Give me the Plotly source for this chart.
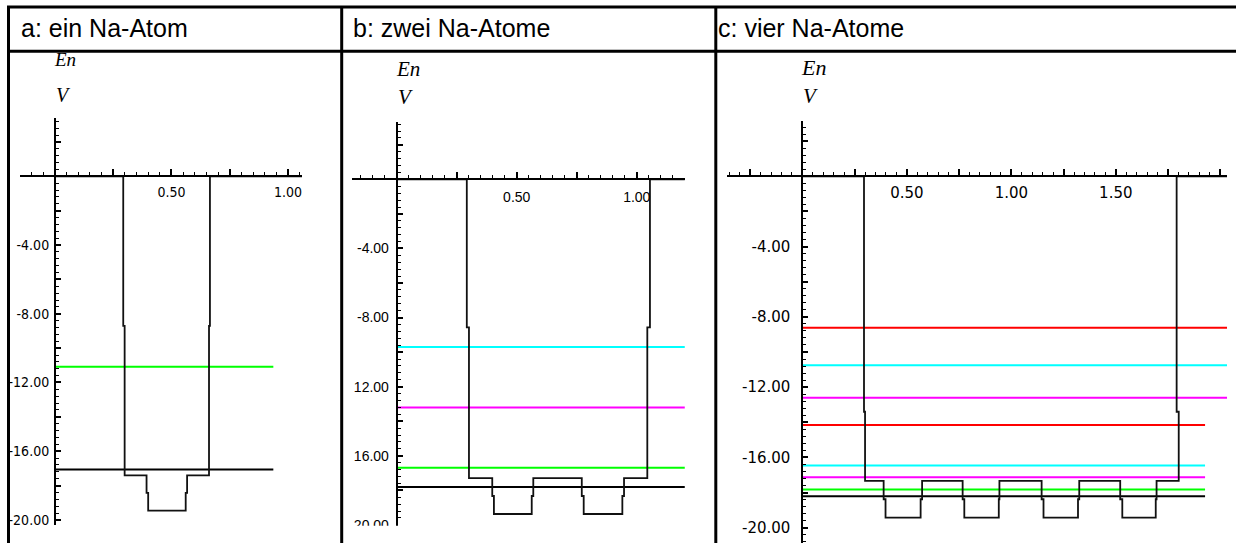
import plotly.graph_objects as go

W, H = 1236, 550

# ---------------- data ----------------
headers = ["a: ein Na-Atom", "b: zwei Na-Atome", "c: vier Na-Atome"]
axis_name_top = "En"
axis_name_bottom = "V"

# potential V(x) polylines
pot_a_x = [0.0, 0.293, 0.293, 0.299, 0.299, 0.393, 0.393, 0.400, 0.400,
           0.561, 0.561, 0.567, 0.567, 0.661, 0.661, 0.665, 0.665, 1.06]
pot_a_v = [0, 0, -8.7, -8.7, -17.41, -17.41, -18.43, -18.43, -19.46,
           -19.46, -18.43, -18.43, -17.41, -17.41, -8.7, -8.7, 0, 0]

pot_b_x = [0.0, 0.292, 0.292, 0.301, 0.301, 0.398, 0.398, 0.405, 0.405,
           0.5625, 0.5625, 0.569, 0.569, 0.771, 0.771, 0.779, 0.779,
           0.940, 0.940, 0.947, 0.947, 1.044, 1.044, 1.055, 1.055, 1.2]
pot_b_v = [0, 0, -8.57, -8.57, -17.29, -17.29, -18.33, -18.33, -19.37,
           -19.37, -18.33, -18.33, -17.29, -17.29, -18.33, -18.33, -19.37,
           -19.37, -18.33, -18.33, -17.29, -17.29, -8.57, -8.57, 0, 0]

pot_c_x = [0.0, 0.295, 0.295, 0.300, 0.300,
           0.389, 0.389, 0.398, 0.398, 0.566, 0.566, 0.573, 0.573,
           0.767, 0.767, 0.775, 0.775, 0.940, 0.940, 0.943, 0.943,
           1.145, 1.145, 1.154, 1.154, 1.319, 1.319, 1.325, 1.325,
           1.521, 1.521, 1.531, 1.531, 1.691, 1.691, 1.695, 1.695,
           1.801, 1.801, 1.791, 1.791, 2.05]
pot_c_v = [0, 0, -13.4, -13.4, -17.33,
           -17.33, -18.38, -18.38, -19.43, -19.43, -18.38, -18.38, -17.33,
           -17.33, -18.38, -18.38, -19.43, -19.43, -18.38, -18.38, -17.33,
           -17.33, -18.38, -18.38, -19.43, -19.43, -18.38, -18.38, -17.33,
           -17.33, -18.38, -18.38, -19.43, -19.43, -18.38, -18.38, -17.33,
           -17.33, -13.4, -13.4, 0, 0]

# energy levels En (value, colour, x end)
levels_a = [-11.09, -17.07]
colors_a = ["#00ff00", "#000000"]
ends_a = [0.937, 0.937]

levels_b = [-9.71, -13.2, -16.7, -17.81]
colors_b = ["#00ffff", "#ff00ff", "#00ff00", "#000000"]
ends_b = [1.2, 1.2, 1.2, 1.2]

levels_c = [-8.62, -10.76, -12.61, -14.16, -16.46, -17.13, -17.83, -18.21]
colors_c = ["#ff0000", "#00ffff", "#ff00ff", "#ff0000",
            "#00ffff", "#ff00ff", "#00ff00", "#000000"]
ends_c = [2.05, 2.05, 2.05, 1.927, 1.927, 1.927, 1.927, 1.927]

# tick labels
x_major_vals = [0.5, 1.0, 1.5, 2.0]
x_major_text = ["0.50", "1.00", "1.50", "2.00"]
y_major_vals = [-4, -8, -12, -16, -20]
y_text_a = ["-4.00", "-8.00", "-12.00", "-16.00", "-20.00"]
y_text_b = ["-4.00", "-8.00", "12.00", "16.00", "20.00"]   # minus signs cut off in the original
y_text_c = ["-4.00", "-8.00", "-12.00", "-16.00", "-20.00"]

# ---------------- layout helpers ----------------
def pxx(x):
    return x / W


def pxy(y):
    return 1 - y / H


panels = [
    dict(pot=(pot_a_x, pot_a_v), lev=(levels_a, colors_a, ends_a), ytext=y_text_a,
         xdom=(20, 302), ydom=(120, 532), xr=(-0.150, 1.060), yr=(-20.31, 3.37),
         tfont=dict(family="Liberation Sans Narrow, DejaVu Sans Condensed, Liberation Sans", size=14, color="black"),
         xstand=3, ystand=2,
         en=(52, 60, 19), v=(54, 96, 20)),
    dict(pot=(pot_b_x, pot_b_v), lev=(levels_b, colors_b, ends_b), ytext=y_text_b,
         xdom=(351.7, 685), ydom=(123.3, 532.5), xr=(-0.1875, 1.201), yr=(-20.05, 3.337),
         tfont=dict(family="Liberation Sans, Arial", size=14, color="black"),
         xstand=5, ystand=4,
         en=(394, 70, 21), v=(396, 98, 21)),
    dict(pot=(pot_c_x, pot_c_v), lev=(levels_c, colors_c, ends_c), ytext=y_text_c,
         xdom=(726.7, 1227), ydom=(122.4, 550), xr=(-0.362, 2.032), yr=(-20.87, 3.157),
         tfont=dict(family="DejaVu Sans", size=15, color="black"),
         xstand=3, ystand=8,
         en=(799, 68, 22), v=(801, 97, 21)),
]

fig = go.Figure()
layout_axes = {}
annotations = []

for i, p in enumerate(panels):
    n = "" if i == 0 else str(i + 1)
    xref, yref = "x" + n, "y" + n
    levs, cols, ends = p["lev"]
    for v, c, e in zip(levs, cols, ends):
        fig.add_trace(go.Scatter(x=[0, e], y=[v, v], mode="lines",
                                 line=dict(color=c, width=2),
                                 xaxis=xref, yaxis=yref, hoverinfo="skip"))
    fig.add_trace(go.Scatter(x=p["pot"][0], y=p["pot"][1], mode="lines",
                             line=dict(color="#111111", width=1.8),
                             xaxis=xref, yaxis=yref, hoverinfo="skip"))

    x0p, x1p = pxx(p["xdom"][0]), pxx(p["xdom"][1])
    y0p, y1p = pxy(p["ydom"][1]), pxy(p["ydom"][0])
    xr, yr = p["xr"], p["yr"]
    yaxis_pos = x0p + (0 - xr[0]) / (xr[1] - xr[0]) * (x1p - x0p)
    xaxis_pos = y0p + (0 - yr[0]) / (yr[1] - yr[0]) * (y1p - y0p)

    # medium ticks every 0.25 (x) and every 2 (y); labels on the majors
    xt, xtt = [], []
    k = int(xr[0] / 0.25)
    while k * 0.25 <= xr[1] + 1e-9:
        val = round(k * 0.25, 4)
        if val >= xr[0]:
            xt.append(val)
            xtt.append(x_major_text[x_major_vals.index(val)] if val in x_major_vals else "")
        k += 1
    yt, ytt = [], []
    for val in range(-20, 4, 2):
        if yr[0] <= val <= yr[1]:
            yt.append(val)
            ytt.append(p["ytext"][y_major_vals.index(val)] if val in y_major_vals else "")

    common = dict(showline=True, linecolor="black", linewidth=2, showgrid=False,
                  zeroline=False, ticks="inside", tickcolor="black", tickwidth=1.6,
                  tickmode="array", tickfont=p["tfont"], anchor="free", fixedrange=True)
    layout_axes["xaxis" + n] = dict(common, domain=[x0p, x1p], range=list(xr),
                                    position=xaxis_pos, tickvals=xt, ticktext=xtt,
                                    ticklen=6, ticklabelstandoff=p["xstand"],
                                    minor=dict(dtick=0.05, tick0=0, ticks="inside", ticklen=3.5,
                                               tickwidth=1.4, tickcolor="black", showgrid=False))
    layout_axes["yaxis" + n] = dict(common, domain=[y0p, y1p], range=list(yr),
                                    position=yaxis_pos, tickvals=yt, ticktext=ytt,
                                    ticklen=5, ticklabelstandoff=p["ystand"],
                                    minor=dict(dtick=0.4, tick0=0, ticks="inside", ticklen=3,
                                               tickwidth=1.4, tickcolor="black", showgrid=False))

    ex, ey, es = p["en"]
    annotations.append(dict(x=pxx(ex), y=pxy(ey), xref="paper", yref="paper",
                            text="<i>" + axis_name_top + "</i>", showarrow=False,
                            xanchor="left", yanchor="middle",
                            font=dict(family="Liberation Serif, Times New Roman", size=es, color="black")))
    vx, vy, vs = p["v"]
    annotations.append(dict(x=pxx(vx), y=pxy(vy), xref="paper", yref="paper",
                            text="<i>" + axis_name_bottom + "</i>", showarrow=False,
                            xanchor="left", yanchor="middle",
                            font=dict(family="Liberation Serif, Times New Roman", size=vs, color="black")))

# header texts
header_x = [19, 351, 716]
for t, hx in zip(headers, header_x):
    annotations.append(dict(x=pxx(hx), y=pxy(28), xref="paper", yref="paper", text=t,
                            showarrow=False, xanchor="left", yanchor="middle",
                            font=dict(family="Liberation Sans, Arial", size=25, color="black")))

shapes = []
# white masks (the original screenshots are cropped there)
shapes.append(dict(type="rect", xref="paper", yref="paper", x0=pxx(10), x1=pxx(715),
                   y0=pxy(550), y1=pxy(532.5), fillcolor="white", line=dict(width=0), layer="above"))
shapes.append(dict(type="rect", xref="paper", yref="paper", x0=pxx(1227), x1=pxx(1236),
                   y0=pxy(550), y1=pxy(54), fillcolor="white", line=dict(width=0), layer="above"))
# table grid
tl = dict(color="black", width=3)
for (xa, ya, xb, yb) in [(7, 7.2, 1236, 7.2), (7, 52, 1236, 52),
                         (8.5, 6, 8.5, 550), (341.7, 6, 341.7, 550), (715.8, 6, 715.8, 550)]:
    shapes.append(dict(type="line", xref="paper", yref="paper", x0=pxx(xa), y0=pxy(ya),
                       x1=pxx(xb), y1=pxy(yb), line=tl, layer="above"))

fig.update_layout(width=W, height=H, margin=dict(l=0, r=0, t=0, b=0),
                  paper_bgcolor="white", plot_bgcolor="white", showlegend=False,
                  annotations=annotations, shapes=shapes, **layout_axes)

fig.write_html("out.html", config={"displayModeBar": False},
               post_script="document.body.style.margin='0px';")
